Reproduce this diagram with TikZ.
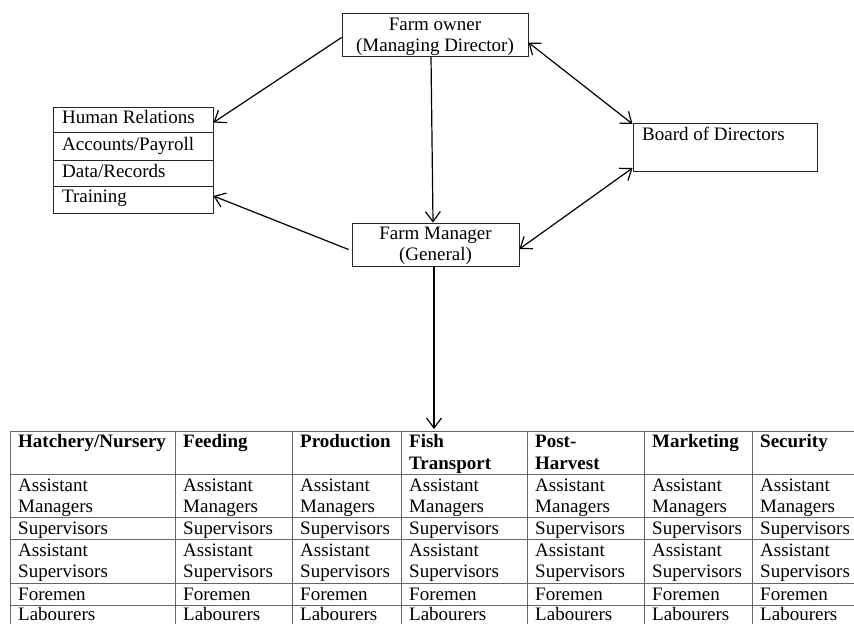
\documentclass[tikz,border=0pt]{standalone}
\usepackage{fontspec}
\setmainfont{Liberation Serif}
\usetikzlibrary{arrows.meta}
\newcommand\diagfont{\fontsize{19pt}{21.5pt}\selectfont}
\begin{document}
\begin{tikzpicture}[x=1pt,y=-1pt,
  txt/.style={font=\diagfont, inner sep=0pt, anchor=base west},
  ctxt/.style={font=\diagfont, inner sep=0pt, anchor=base},
  htxt/.style={font=\diagfont\bfseries, inner sep=0pt, anchor=base west},
  box/.style={draw=black!85, line width=0.9pt, inner sep=0pt, rectangle},
  grid/.style={draw=black!60, line width=1pt},
  tip/.tip={Straight Barb[length=10pt,width=15pt,line width=1.2pt]},
  arr/.style={line width=1.2pt, -tip},
  darr/.style={line width=1.2pt, tip-tip}]
\useasboundingbox (0,0) rectangle (854,624);

% Farm owner
\node[box, minimum width=186pt, minimum height=43pt] (owner) at (435,34.5) {};
\node[ctxt] (ownerA) at (435,30) {Farm owner};
\node[ctxt] (ownerB) at (435,51) {(Managing Director)};

% Left list
\node[box, minimum width=160pt, minimum height=25pt] (hr1) at (133,119.5) {};
\node[box, minimum width=160pt, minimum height=28pt] (hr2) at (133,146) {};
\node[box, minimum width=160pt, minimum height=26pt] (hr3) at (133,173) {};
\node[box, minimum width=160pt, minimum height=27pt] (hr4) at (133,199.5) {};
\node[txt] (t1) at (62,123) {Human Relations};
\node[txt] (t2) at (62,150) {Accounts/Payroll};
\node[txt] (t3) at (62,177) {Data/Records};
\node[txt] (t4) at (62,202) {Training};

% Board of Directors
\node[box, minimum width=184pt, minimum height=48pt] (board) at (725,147) {};
\node[txt] (boardt) at (642,140) {Board of Directors};

% Farm Manager
\node[box, minimum width=167pt, minimum height=43pt] (fm) at (435.5,244.5) {};
\node[ctxt] (fmA) at (435.5,239) {Farm Manager};
\node[ctxt] (fmB) at (435.5,260) {(General)};

% Table grid
\coordinate (tbltop) at (434,429);
\foreach \y in {431,474,517,539,583,605} \draw[grid] (10,\y) -- (854,\y);
\foreach \x in {10,175,292,401,527,644,752} \draw[grid] (\x,431) -- (\x,624);

% Headers
\node[htxt] (h1) at (18,447) {Hatchery/Nursery};
\node[htxt] (h2) at (183,447) {Feeding};
\node[htxt] (h3) at (300,447) {Production};
\node[htxt] (h4a) at (409,447) {Fish};
\node[htxt] (h4b) at (409,469) {Transport};
\node[htxt] (h5a) at (535,447) {Post-};
\node[htxt] (h5b) at (535,469) {Harvest};
\node[htxt] (h6) at (652,447) {Marketing};
\node[htxt] (h7) at (760,447) {Security};

% Body
\foreach \x [count=\i] in {10,175,292,401,527,644,752} {
  \node[txt] (a\i) at (\x+8,491) {Assistant};
  \node[txt] (b\i) at (\x+8,512.5) {Managers};
  \node[txt] (c\i) at (\x+8,534) {Supervisors};
  \node[txt] (d\i) at (\x+8,556) {Assistant};
  \node[txt] (e\i) at (\x+8,577.5) {Supervisors};
  \node[txt] (f\i) at (\x+8,600) {Foremen};
  \node[txt] (g\i) at (\x+8,620) {Labourers};
}

% Connectors
\draw[arr] ([yshift=-3pt]owner.west) -- ([yshift=-3pt]hr1.east);
\draw[arr] ([xshift=-4pt]owner.south) -- (fm.north -| 433,0);
\draw[darr] ([yshift=-8pt]owner.east) -- ([yshift=23pt]board.west);
\draw[darr] ([yshift=-21pt]board.west) -- ([yshift=-4.5pt]fm.east);
\draw[arr] ([xshift=-3pt,yshift=-5pt]fm.west) -- ([yshift=3.5pt]hr4.east);
\draw[arr] (fm.south -| tbltop) -- (tbltop);
\end{tikzpicture}
\end{document}
